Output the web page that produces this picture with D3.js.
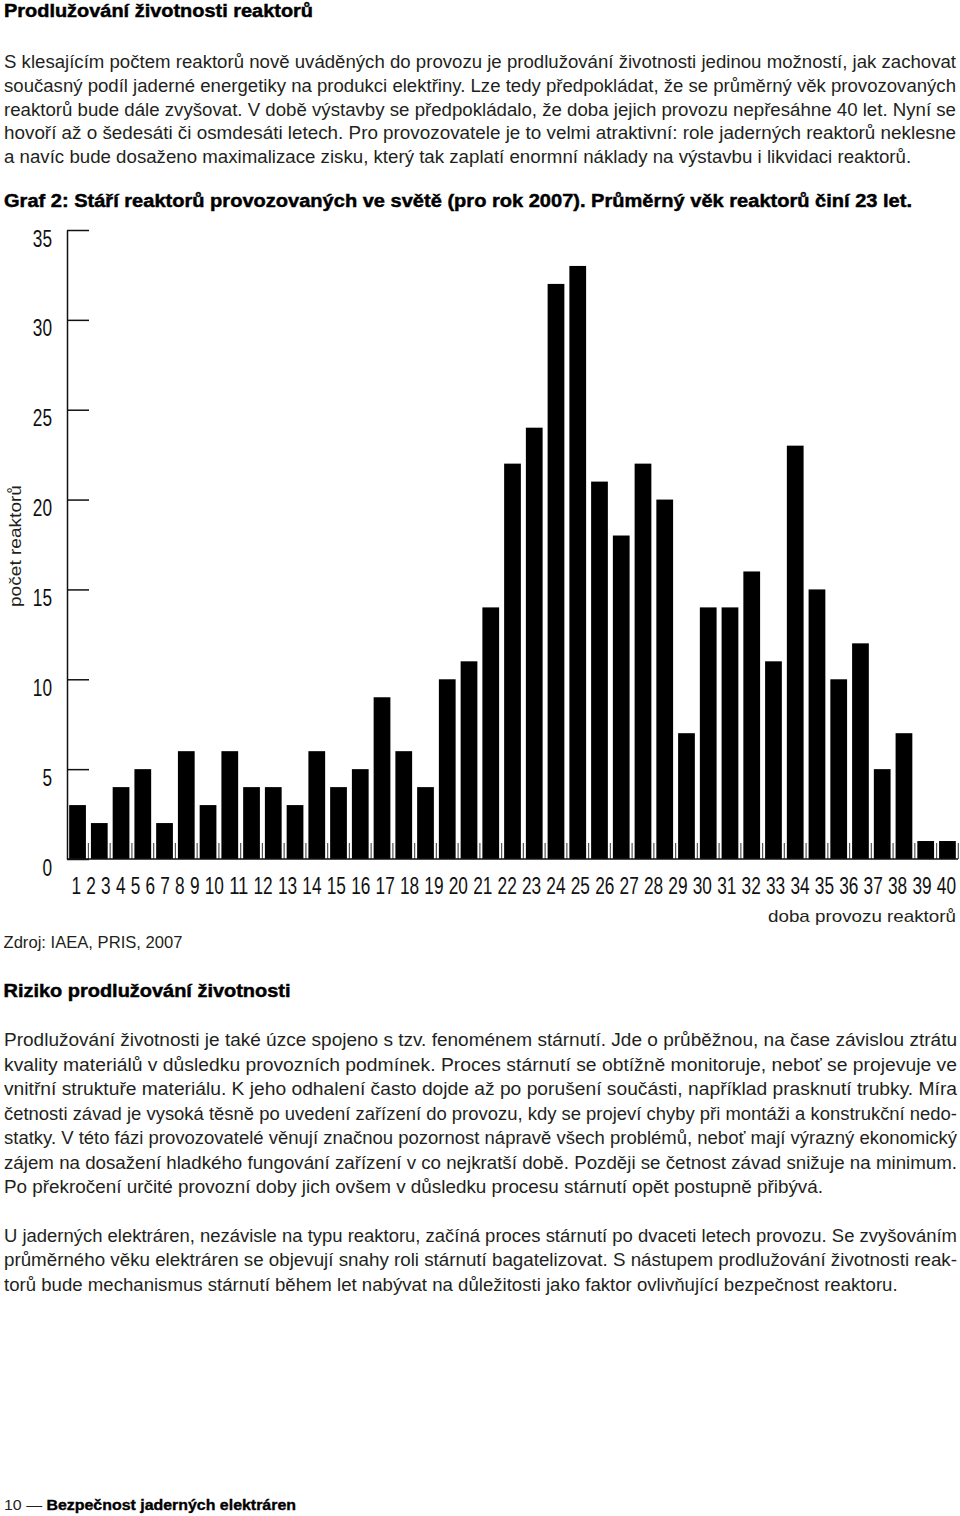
<!DOCTYPE html>
<html>
<head>
<meta charset="utf-8">
<script src="https://cdn.jsdelivr.net/npm/d3@7"></script>
<style>
  body { margin: 0; background: #fff; }
  svg { display: block; }
  text { font-family: "Liberation Sans", Arial, sans-serif; fill: #231f20; }
</style>
</head>
<body>
<script>
// chart data: number of reactors by years of operation (2007)
const ages = [0,1,2,3,4,5,6,7,8,9,10,11,12,13,14,15,16,17,18,19,20,
              21,22,23,24,25,26,27,28,29,30,31,32,33,34,35,36,37,38,39,40];
const counts = [3,2,4,5,2,6,3,6,4,4,3,6,4,5,9,6,4,10,11,14,22,
                24,32,33,21,18,22,20,7,14,14,16,11,23,15,10,12,5,7,1,1];
const xLabels = ["1","2","3","4","5","6","7","8","9","10","11","12","13","14","15","16","17","18","19","20",
                 "21","22","23","24","25","26","27","28","29","30","31","32","33","34","35","36","37","38","39","40"];
const yTicks = [0,5,10,15,20,25,30,35];

// page texts
const title = "Prodlužování životnosti reaktorů";
const intro = [
  "S klesajícím počtem reaktorů nově uváděných do provozu je prodlužování životnosti jedinou možností, jak zachovat",
  "současný podíl jaderné energetiky na produkci elektřiny. Lze tedy předpokládat, že se průměrný věk provozovaných",
  "reaktorů bude dále zvyšovat. V době výstavby se předpokládalo, že doba jejich provozu nepřesáhne 40 let. Nyní se",
  "hovoří až o šedesáti či osmdesáti letech. Pro provozovatele je to velmi atraktivní: role jaderných reaktorů neklesne",
  "a navíc bude dosaženo maximalizace zisku, který tak zaplatí enormní náklady na výstavbu i likvidaci reaktorů."
];
const chartTitle = "Graf 2: Stáří reaktorů provozovaných ve světě (pro rok 2007). Průměrný věk reaktorů činí 23 let.";
const yTitle = "počet reaktorů";
const xTitle = "doba provozu reaktorů";
const source = "Zdroj: IAEA, PRIS, 2007";
const heading2 = "Riziko prodlužování životnosti";
const para1 = [
  "Prodlužování životnosti je také úzce spojeno s tzv. fenoménem stárnutí. Jde o průběžnou, na čase závislou ztrátu",
  "kvality materiálů v důsledku provozních podmínek. Proces stárnutí se obtížně monitoruje, neboť se projevuje ve",
  "vnitřní struktuře materiálu. K jeho odhalení často dojde až po porušení součásti, například prasknutí trubky. Míra",
  "četnosti závad je vysoká těsně po uvedení zařízení do provozu, kdy se projeví chyby při montáži a konstrukční nedo-",
  "statky. V této fázi provozovatelé věnují značnou pozornost nápravě všech problémů, neboť mají výrazný ekonomický",
  "zájem na dosažení hladkého fungování zařízení v co nejkratší době. Později se četnost závad snižuje na minimum.",
  "Po překročení určité provozní doby jich ovšem v důsledku procesu stárnutí opět postupně přibývá."
];
const para2 = [
  "U jaderných elektráren, nezávisle na typu reaktoru, začíná proces stárnutí po dvaceti letech provozu. Se zvyšováním",
  "průměrného věku elektráren se objevují snahy roli stárnutí bagatelizovat. S nástupem prodlužování životnosti reak-",
  "torů bude mechanismus stárnutí během let nabývat na důležitosti jako faktor ovlivňující bezpečnost reaktoru."
];
const footerNum = "10 — ";
const footerText = "Bezpečnost jaderných elektráren";

const w = 960, h = 1516;
const svg = d3.select("body").append("svg")
  .attr("width", w)
  .attr("height", h);

// squeeze/stretch a text element to a given width
function fit(sel, width) {
  sel.attr("textLength", width).attr("lengthAdjust", "spacingAndGlyphs");
  return sel;
}

// justified paragraph: every line but the last is stretched to the right edge
function paragraph(lines, x, y0, lh, right, size) {
  const ts = lines.map((t, i) => svg.append("text")
    .attr("x", x).attr("y", y0 + i * lh)
    .style("font-size", size + "px")
    .text(t));
  const ratios = [];
  ts.forEach((t, i) => {
    if (i < ts.length - 1) {
      ratios.push((right - x) / t.node().getComputedTextLength());
      fit(t, right - x);
    }
  });
  const last = ts[ts.length - 1];
  fit(last, last.node().getComputedTextLength() * d3.mean(ratios));
}

function boldLine(str, x, y, width, size) {
  return fit(svg.append("text")
    .attr("x", x).attr("y", y)
    .style("font-size", size + "px")
    .style("font-weight", "bold")
    .style("fill", "#000")
    .style("stroke", "#000")
    .style("stroke-width", 0.45)
    .text(str), width);
}

// headings and intro text
boldLine(title, 4, 17, 309, 18);
paragraph(intro, 4, 68.3, 23.7, 956, 17.5);
boldLine(chartTitle, 4, 206.5, 908, 18);

// chart
const x0 = 67, x1 = 958, yBase = 859, yTop = 230;
const x = d3.scaleBand()
  .domain(ages)
  .range([x0, x1])
  .paddingInner(0.23)
  .paddingOuter(0.1);
const y = d3.scaleLinear()
  .domain([0, 35])
  .range([yBase, yTop]);

svg.append("g")
  .selectAll("rect")
  .data(ages)
  .enter()
  .append("rect")
  .attr("x", d => x(d))
  .attr("y", (d, i) => y(counts[i]))
  .attr("width", x.bandwidth())
  .attr("height", (d, i) => y(0) - y(counts[i]))
  .attr("fill", "#000");

// small separators between bars on the baseline
const gap = x.step() * x.paddingInner();
svg.append("g")
  .selectAll("line")
  .data(ages)
  .enter()
  .append("line")
  .attr("x1", d => x(d) + x.bandwidth() + gap / 2)
  .attr("x2", d => x(d) + x.bandwidth() + gap / 2)
  .attr("y1", yBase - 16)
  .attr("y2", yBase)
  .attr("stroke", "#555")
  .attr("stroke-width", 1.2);

// baseline
svg.append("line")
  .attr("x1", x0).attr("x2", x1)
  .attr("y1", yBase).attr("y2", yBase)
  .attr("stroke", "#111")
  .attr("stroke-width", 1.5);

// condensed digits: squeeze horizontally with a transform
const digitW = 9.6;
const narrow = "\"Liberation Sans Narrow\", \"Liberation Sans\", sans-serif";
function condense(node, s, anchorRight) {
  const t = d3.select(node);
  const nat = node.getComputedTextLength();
  const k = (s.length * digitW) / nat;
  const px = +t.attr("x") || 0, py = +t.attr("y") || 0;
  t.attr("x", 0).attr("y", 0)
   .attr("transform", `translate(${px},${py}) scale(${k},1)`);
}

// y axis, ticks pointing into the plot
const yAxis = d3.axisLeft(y)
  .tickValues(yTicks)
  .tickSizeInner(-22)
  .tickSizeOuter(0)
  .tickPadding(15);
const gy = svg.append("g")
  .attr("transform", `translate(${x0},0)`)
  .call(yAxis);
gy.select(".domain").attr("stroke", "#111").attr("stroke-width", 1.5);
gy.selectAll(".tick line").attr("stroke", "#111").attr("stroke-width", 1.5);
gy.selectAll(".tick text")
  .attr("dy", "0.67em")
  .style("font-family", narrow)
  .style("font-size", "24px")
  .style("fill", "#111")
  .each(function(d) {
    const nat = this.getComputedTextLength();
    const k = (String(d).length * digitW) / nat;
    d3.select(this).attr("x", -15 / k).attr("transform", `scale(${k},1)`);
  });

// x labels: run as one row of condensed numbers, like the original
const labelStart = 71.5, labelEnd = 956;
const inkW = d3.sum(xLabels, s => s.length * digitW);
const spaceW = (labelEnd - labelStart - inkW) / (xLabels.length - 1);
const labelX = [];
xLabels.reduce((pos, s) => { labelX.push(pos); return pos + s.length * digitW + spaceW; }, labelStart);
svg.append("g")
  .selectAll("text")
  .data(xLabels)
  .enter()
  .append("text")
  .attr("x", (d, i) => labelX[i])
  .attr("y", 894)
  .style("font-family", narrow)
  .style("font-size", "24px")
  .style("fill", "#111")
  .text(d => d)
  .each(function(d) { condense(this, d); });

// axis titles and source
fit(svg.append("text")
  .attr("transform", "translate(21,546) rotate(-90)")
  .attr("text-anchor", "middle")
  .style("font-size", "17px")
  .text(yTitle), 122);

fit(svg.append("text")
  .attr("x", 956).attr("y", 922)
  .attr("text-anchor", "end")
  .style("font-size", "17px")
  .text(xTitle), 188);

fit(svg.append("text")
  .attr("x", 3.5).attr("y", 948)
  .style("font-size", "17px")
  .text(source), 179);

// second section
boldLine(heading2, 3.5, 997, 287, 18);
paragraph(para1, 4, 1046, 24.5, 957, 17.5);
paragraph(para2, 4, 1241.5, 24.5, 957, 17.5);

// footer
const foot = svg.append("text")
  .attr("x", 4).attr("y", 1510)
  .style("font-size", "14.5px");
foot.append("tspan").text(footerNum);
foot.append("tspan")
  .style("font-weight", "bold")
  .style("fill", "#000")
  .style("stroke", "#000")
  .style("stroke-width", 0.35)
  .text(footerText);
fit(foot, 292);
</script>
</body>
</html>
